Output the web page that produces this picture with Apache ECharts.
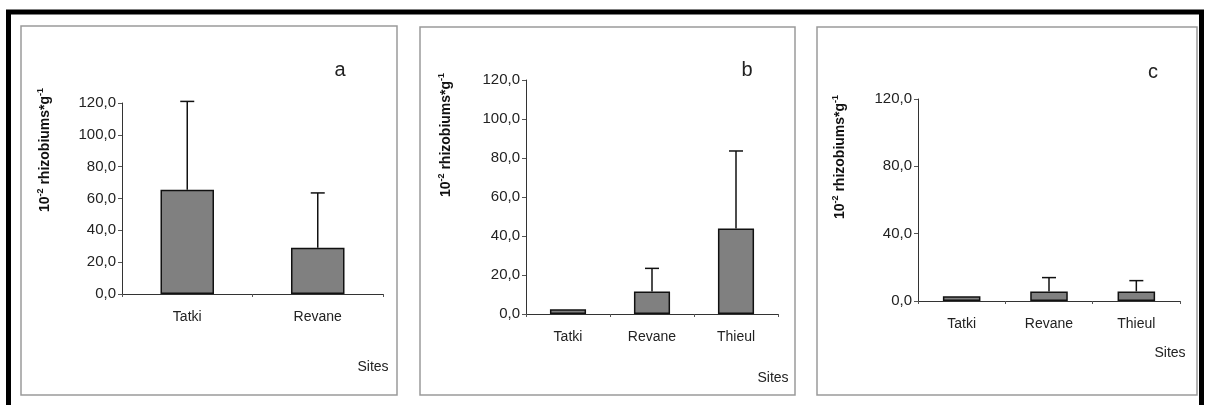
<!DOCTYPE html>
<html>
<head>
<meta charset="utf-8">
<script src="https://cdn.jsdelivr.net/npm/echarts@6/dist/echarts.min.js"></script>
<style>
  html, body { margin: 0; padding: 0; background: #fff; }
  #chart { width: 1206px; height: 405px; }
</style>
</head>
<body>
<div id="chart"></div>
<script>
// Rhizobium counts per site (means and upper standard deviation)
var sitesA = ['Tatki', 'Revane'];
var meansA = [65.5, 29.0];
var sdA = [55.5, 34.5];

var sitesB = ['Tatki', 'Revane', 'Thieul'];
var meansB = [2.4, 11.5, 43.9];
var sdB = [null, 11.9, 39.7];

var sitesC = ['Tatki', 'Revane', 'Thieul'];
var meansC = [2.8, 5.7, 5.7];
var sdC = [null, 8.2, 6.4];

var panelLetters = ['a', 'b', 'c'];
var yIntervals = [20, 20, 40];
var yMax = 120;

var FONT = '"Liberation Sans", Arial, sans-serif';

var chart = echarts.init(document.getElementById('chart'), null, { renderer: 'canvas' });

// plot areas of the three panels
var grids = [
  { left: 122, top: 103, width: 261, height: 191 },
  { left: 526, top: 80, width: 252, height: 234 },
  { left: 918, top: 99, width: 262, height: 202 }
];
var barWidths = ['41%', '43%', '43%'];
var categories = [sitesA, sitesB, sitesC];
var means = [meansA, meansB, meansC];
var sds = [sdA, sdB, sdC];

function fmt(v) { return v.toFixed(1).replace('.', ','); }

var xAxes = [], yAxes = [], series = [];
for (var i = 0; i < 3; i++) {
  xAxes.push({
    type: 'category', gridIndex: i, data: categories[i],
    axisLine: { lineStyle: { color: '#333', width: 1 } },
    axisTick: { show: true, length: 3, lineStyle: { color: '#555' } },
    axisLabel: { color: '#222', fontFamily: FONT, fontSize: 14, margin: 16 }
  });
  yAxes.push({
    type: 'value', gridIndex: i, min: 0, max: yMax, interval: yIntervals[i],
    splitLine: { show: false },
    axisLine: { show: true, lineStyle: { color: '#333', width: 1 } },
    axisTick: { show: true, length: 4, lineStyle: { color: '#555' } },
    axisLabel: { color: '#222', fontFamily: FONT, fontSize: 15, margin: 6, formatter: fmt }
  });
  series.push({
    type: 'bar', xAxisIndex: i, yAxisIndex: i, data: means[i],
    barWidth: barWidths[i],
    itemStyle: { color: '#808080', borderColor: '#111', borderWidth: 1.5 },
    silent: true, z: 2
  });
  var errData = means[i].map(function (m, k) { return [k, m, sds[i][k]]; })
    .filter(function (d) { return d[2] != null; });
  series.push({
    type: 'custom', xAxisIndex: i, yAxisIndex: i, data: errData, z: 3, silent: true,
    encode: { x: 0, y: [1, 2] },
    renderItem: function (params, api) {
      var x = api.value(0), m = api.value(1), s = api.value(2);
      var p0 = api.coord([x, m]);
      var p1 = api.coord([x, m + s]);
      var style = { stroke: '#111', lineWidth: 1.5 };
      return {
        type: 'group',
        children: [
          { type: 'line', shape: { x1: p0[0], y1: p0[1], x2: p1[0], y2: p1[1] }, style: style },
          { type: 'line', shape: { x1: p1[0] - 7, y1: p1[1], x2: p1[0] + 7, y2: p1[1] }, style: style }
        ]
      };
    }
  });
}

// frames, panel letters, axis titles
var panels = [
  { x: 21, y: 26, w: 376, h: 369, letter: [340, 70], sites: [373, 367], ylab: [45, 150] },
  { x: 420, y: 27, w: 375, h: 368, letter: [747, 70], sites: [773, 378], ylab: [446, 135] },
  { x: 817, y: 27, w: 380, h: 368, letter: [1153, 72], sites: [1170, 353], ylab: [840, 157] }
];
var graphics = [{
  type: 'rect', shape: { x: 8.5, y: 12, width: 1193, height: 420 },
  style: { fill: 'none', stroke: '#000', lineWidth: 5 }, z: 10
}];
panels.forEach(function (p, i) {
  graphics.push({
    type: 'rect', shape: { x: p.x, y: p.y, width: p.w, height: p.h },
    style: { fill: 'none', stroke: '#9a9a9a', lineWidth: 1.5 }, z: 1
  });
  graphics.push({
    type: 'text', x: p.letter[0], y: p.letter[1],
    style: { text: panelLetters[i], fill: '#222', font: '20px ' + FONT, textAlign: 'center', textVerticalAlign: 'middle' }
  });
  graphics.push({
    type: 'text', x: p.sites[0], y: p.sites[1],
    style: { text: 'Sites', fill: '#222', font: '14px ' + FONT, textAlign: 'center', textVerticalAlign: 'middle' }
  });
  graphics.push({
    type: 'text', x: p.ylab[0], y: p.ylab[1], rotation: Math.PI / 2,
    style: {
      text: '10{sup|-2} rhizobiums*g{sup|-1}',
      fill: '#111', font: 'bold 14px ' + FONT, textAlign: 'center', textVerticalAlign: 'middle',
      rich: { sup: { fontSize: 9, fontWeight: 'bold', fontFamily: FONT, fill: '#111', padding: [0, 0, 8, 0] } }
    }
  });
});

chart.setOption({
  backgroundColor: '#fff',
  animation: false,
  grid: grids,
  xAxis: xAxes,
  yAxis: yAxes,
  series: series,
  graphic: graphics
});
</script>
</body>
</html>
